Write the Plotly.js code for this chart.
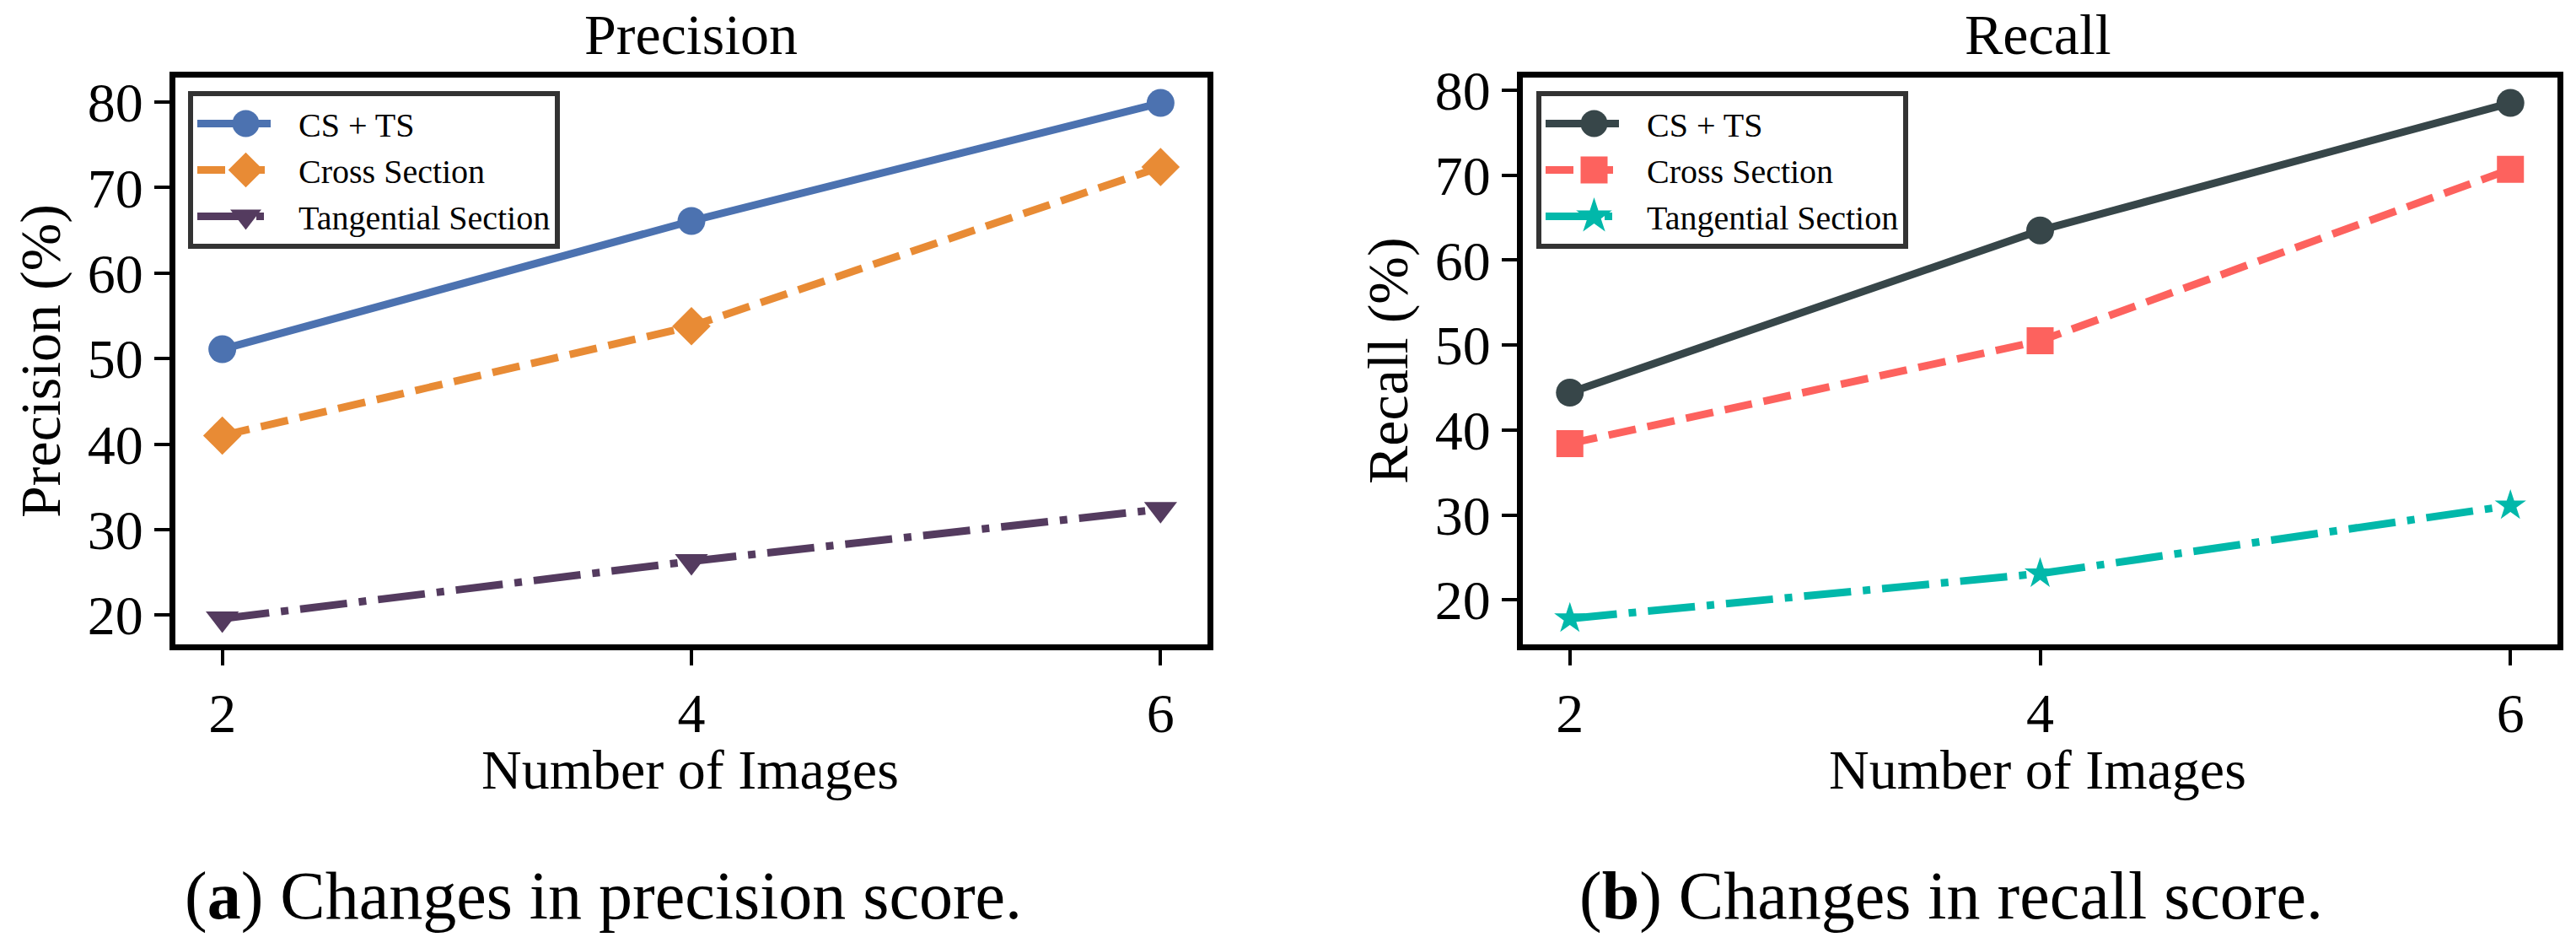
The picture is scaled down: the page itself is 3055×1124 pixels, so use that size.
<!DOCTYPE html>
<html>
<head>
<meta charset="utf-8">
<script src="https://cdn.plot.ly/plotly-3.0.1.min.js"></script>
<style>
  html, body { margin: 0; padding: 0; background: #ffffff; }
  #chart { width: 3055px; height: 1124px; }
</style>
</head>
<body>
<div id="chart"></div>
<script>
// ---- data ----
const numImages = [2, 4, 6];
const seriesNames = ["CS + TS", "Cross Section", "Tangential Section"];

const precisionCSTS = [51.1, 66.1, 79.9];
const precisionCross = [41.0, 53.8, 72.4];
const precisionTang = [19.6, 26.3, 32.4];

const recallCSTS = [44.4, 63.5, 78.5];
const recallCross = [38.4, 50.5, 70.7];
const recallTang = [17.8, 23.1, 31.1];

const xTickVals = [2, 4, 6];
const yTickVals = [20, 30, 40, 50, 60, 70, 80];

const panelTitles = ["Precision", "Recall"];
const yTitles = ["Precision (%)", "Recall (%)"];
const xTitle = "Number of Images";
const captions = ["(<b>a</b>) Changes in precision score.", "(<b>b</b>) Changes in recall score."];

// ---- styling ----
const FONT = '"Liberation Serif", "Times New Roman", Times, serif';
const W = 3055, H = 1124;
const px = v => v / W;
const py = v => 1 - v / H;

function padRange(arrs) {
  const all = [].concat(...arrs);
  const lo = Math.min(...all), hi = Math.max(...all);
  const m = (hi - lo) * 0.05;
  return [lo - m, hi + m];
}
const xPad = (numImages[numImages.length - 1] - numImages[0]) * 0.05;
const xRange = [numImages[0] - xPad, numImages[numImages.length - 1] + xPad];

const precColors = ["#4c72b0", "#e88b35", "#543b5f"];
const recColors = ["#374649", "#fd625e", "#01b8aa"];
const dashes = ["solid", "33px,14px", "56px,14px,9px,14px"];
const precSymbols = ["circle", "diamond", "triangle-down"];
const recSymbols = ["circle", "square", "star"];
const precSizes = [33, 35, 34];
const recSizes = [33, 32, 28];

const precData = [precisionCSTS, precisionCross, precisionTang];
const recData = [recallCSTS, recallCross, recallTang];

const traces = [];
precData.forEach((ys, i) => {
  traces.push({
    x: numImages, y: ys, name: seriesNames[i], type: "scatter", mode: "lines+markers",
    xaxis: "x", yaxis: "y", legend: "legend",
    line: { color: precColors[i], width: 9, dash: dashes[i] },
    marker: { color: precColors[i], symbol: precSymbols[i], size: precSizes[i] }
  });
});
recData.forEach((ys, i) => {
  traces.push({
    x: numImages, y: ys, name: seriesNames[i], type: "scatter", mode: "lines+markers",
    xaxis: "x2", yaxis: "y2", legend: "legend2",
    line: { color: recColors[i], width: 9, dash: dashes[i] },
    marker: { color: recColors[i], symbol: recSymbols[i], size: recSizes[i] }
  });
});

function xAxis(domain, anchor) {
  return {
    domain: domain, anchor: anchor, range: xRange,
    tickmode: "array", tickvals: xTickVals, ticktext: xTickVals.map(String),
    ticks: "outside", ticklen: 18, tickwidth: 4, tickcolor: "#000",
    showline: true, linewidth: 7, linecolor: "#000", mirror: true,
    showgrid: false, zeroline: false,
    tickfont: { family: FONT, size: 66, color: "#000" }
  };
}
function yAxis(range, anchor) {
  return {
    domain: [py(764), py(91.5)], anchor: anchor, range: range,
    tickmode: "array", tickvals: yTickVals, ticktext: yTickVals.map(String),
    ticks: "outside", ticklen: 18, tickwidth: 4, tickcolor: "#000",
    showline: true, linewidth: 7, linecolor: "#000", mirror: true,
    showgrid: false, zeroline: false,
    tickfont: { family: FONT, size: 66, color: "#000" }
  };
}

const legendBase = {
  xanchor: "left", yanchor: "top",
  bgcolor: "#ffffff", bordercolor: "#333333", borderwidth: 6,
  font: { family: FONT, size: 40, color: "#000" },
  itemwidth: 115, tracegroupgap: 0
};

const annotations = [];
function ann(text, x, y, size, extra) {
  annotations.push(Object.assign({
    text: text, xref: "paper", yref: "paper", x: x, y: y,
    showarrow: false, font: { family: FONT, size: size, color: "#000" }
  }, extra || {}));
}
ann(panelTitles[0], px(819), py(1.5), 68, { xanchor: "center", yanchor: "top" });
ann(panelTitles[1], px(2417), py(1.5), 68, { xanchor: "center", yanchor: "top" });
ann(xTitle, px(818), py(874), 66, { xanchor: "center", yanchor: "top" });
ann(xTitle, px(2416), py(874), 66, { xanchor: "center", yanchor: "top" });
ann(yTitles[0], px(48), py(428), 68, { xanchor: "center", yanchor: "middle", textangle: -90 });
ann(yTitles[1], px(1646), py(428), 68, { xanchor: "center", yanchor: "middle", textangle: -90 });
ann(captions[0], px(715), py(1016), 80, { xanchor: "center", yanchor: "top" });
ann(captions[1], px(2314), py(1016), 80, { xanchor: "center", yanchor: "top" });

const layout = {
  width: W, height: H,
  margin: { l: 0, r: 0, t: 0, b: 0, pad: 0 },
  paper_bgcolor: "#ffffff", plot_bgcolor: "#ffffff",
  font: { family: FONT, color: "#000" },
  xaxis: xAxis([px(208), px(1432)], "y"),
  yaxis: yAxis(padRange(precData), "x"),
  xaxis2: xAxis([px(1806), px(3033)], "y2"),
  yaxis2: yAxis(padRange(recData), "x2"),
  legend: Object.assign({}, legendBase, { x: px(223), y: py(108) }),
  legend2: Object.assign({}, legendBase, { x: px(1822), y: py(108) }),
  annotations: annotations,
  showlegend: true
};

Plotly.newPlot("chart", traces, layout, { displayModeBar: false, staticPlot: true }).then(function (gd) {
  // enlarge the legend symbols to match the plotted marker size
  gd.querySelectorAll(".legendpoints path.scatterpts").forEach(function (p) {
    var t = p.getAttribute("transform") || "";
    p.setAttribute("transform", t + " scale(2)");
  });
  // shorten the legend line sample so it leaves a gap before the label
  gd.querySelectorAll(".legendlines path").forEach(function (p) {
    var d = p.getAttribute("d") || "";
    var m = d.match(/^M([-\d.]+),([-\d.]+)h([-\d.]+)$/);
    if (m) {
      p.setAttribute("d", "M" + m[1] + "," + m[2] + "h87");
    }
  });
});
</script>
</body>
</html>
